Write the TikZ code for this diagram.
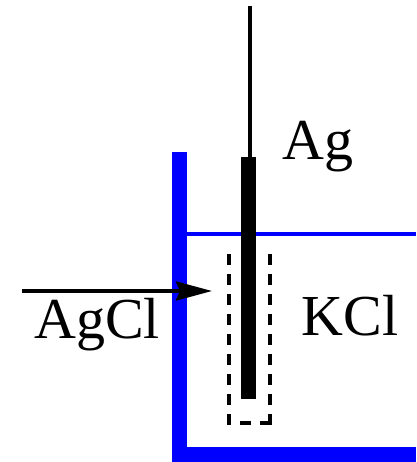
\documentclass[tikz,border=0pt]{standalone}
\usepackage{fontspec}
\setmainfont{Liberation Serif}
\usetikzlibrary{arrows.meta}
\tikzset{lbl/.style={inner sep=0pt,font=\fontsize{58}{58}\selectfont,text=black},
  dashline/.style={black,line width=4pt,dash pattern=on 11pt off 9pt}}
\begin{document}
\begin{tikzpicture}[x=1pt,y=-1pt]
\useasboundingbox (0,0) rectangle (416,462);
\fill[white] (0,0) rectangle (416,462);
\fill[blue] (172,152) rectangle (187,462);
\fill[blue] (172,447) rectangle (416,462);
\draw[blue,line width=4pt] (187,234) -- (416,234);
\draw[dashline] (229,254) -- (229,423) -- (251,423);
\draw[dashline] (270,254) -- (270,423) -- (260,423);
\draw[black,line width=4pt] (272,423) -- (260,423);
\draw[black,line width=4pt] (250,6) -- (250,160);
\fill[black] (241,157) rectangle (256,399);
\coordinate (astart) at (22,291);
\coordinate (aend) at (212,291);
\draw[line width=4pt,-{Stealth[length=36pt,width=19pt,inset=4pt]}] (astart) -- (aend);
\node[lbl,anchor=base] (ag) at (318,160) {Ag};
\node[lbl,anchor=base] (agcl) at (97,338) {AgCl};
\node[lbl,anchor=base] (kcl) at (350,335) {KCl};
\end{tikzpicture}
\end{document}
